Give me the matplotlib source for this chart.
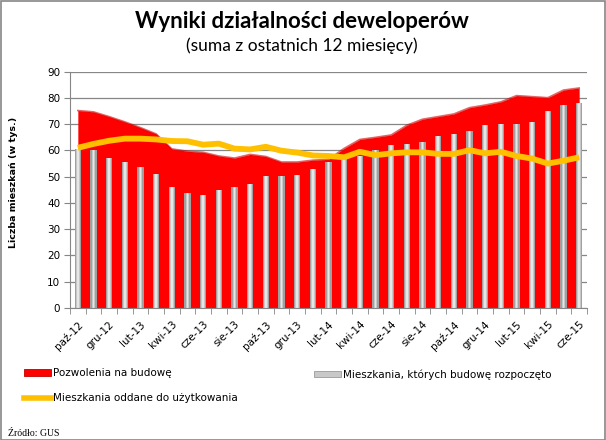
import matplotlib
matplotlib.use("Agg")
import matplotlib.pyplot as plt
import numpy as np
from matplotlib.patches import Rectangle, Patch
from matplotlib.lines import Line2D

months = ["paź-12", "lis-12", "gru-12", "sty-13", "lut-13", "mar-13", "kwi-13", "maj-13",
          "cze-13", "lip-13", "sie-13", "wrz-13", "paź-13", "lis-13", "gru-13", "sty-14",
          "lut-14", "mar-14", "kwi-14", "maj-14", "cze-14", "lip-14", "sie-14", "wrz-14",
          "paź-14", "lis-14", "gru-14", "sty-15", "lut-15", "mar-15", "kwi-15", "maj-15",
          "cze-15"]

pozwolenia = [75.2, 74.7, 72.9, 70.9, 68.7, 66.3, 60.6, 59.7, 59.3, 57.9, 57.1, 58.5,
              57.7, 55.6, 55.6, 56.3, 56.6, 60.8, 64.2, 65.0, 65.9, 69.6, 71.9, 72.9,
              73.9, 76.3, 77.3, 78.5, 80.9, 80.5, 80.1, 83.0, 83.8]

rozpoczete = [60.5, 60.2, 57.0, 55.5, 53.8, 51.2, 46.0, 43.9, 43.2, 44.8, 46.2, 47.4,
              50.4, 50.4, 50.8, 52.9, 55.6, 56.9, 57.9, 60.2, 62.0, 62.5, 63.2, 65.4,
              66.3, 67.4, 69.6, 70.1, 70.1, 70.9, 75.0, 77.5, 78.2]

oddane = [61.0, 62.5, 63.7, 64.5, 64.5, 64.2, 63.6, 63.5, 62.2, 62.6, 60.7, 60.4,
          61.4, 59.9, 59.2, 58.1, 57.9, 57.4, 59.5, 58.2, 58.9, 59.3, 59.3, 58.7,
          58.7, 60.1, 58.9, 59.5, 57.9, 56.9, 55.0, 56.1, 57.4]

yticks = [0, 10, 20, 30, 40, 50, 60, 70, 80, 90]

title = "Wyniki działalności deweloperów"
subtitle = "(suma z ostatnich 12 miesięcy)"
ylabel = "Liczba mieszkań (w tys.)"
source = "Źródło: GUS"
lab_poz = "Pozwolenia na budowę"
lab_roz = "Mieszkania, których budowę rozpoczęto"
lab_odd = "Mieszkania oddane do użytkowania"

W, H = 606, 440
fig = plt.figure(figsize=(W / 100, H / 100), dpi=100)
fig.patch.set_facecolor("white")

ax = fig.add_axes([70 / W, 1 - 308 / H, (587 - 70) / W, (308 - 71.7) / H])
x = np.arange(len(months))

grid_c = "#868686"
ax.set_ylim(0, 90)
ax.set_xlim(-0.5, len(months) - 0.5)
ax.set_yticks(yticks)
ax.yaxis.grid(True, color=grid_c, lw=0.9, zorder=0)
ax.set_axisbelow(True)

# red area
ax.fill_between(x, 0, pozwolenia, color="#FF0000", lw=0, zorder=2)
ax.plot(x, pozwolenia, color="#D00000", lw=1.2, alpha=0.6, zorder=2.1)

# grey bars (cylinder-like shading)
bw = 0.40
ax.bar(x, rozpoczete, width=bw, color="#A0A0A0", lw=0, zorder=3)
ax.bar(x, rozpoczete, width=bw * 0.55, color="#C8C8C8", lw=0, zorder=3.1)
ax.bar(x, rozpoczete, width=bw * 0.22, color="#E6E6E6", lw=0, zorder=3.2)

# orange line
ax.plot(x, oddane, color="#FFC000", lw=4.2, solid_capstyle="butt", zorder=4)

for s in ["top", "right"]:
    ax.spines[s].set_visible(False)
ax.spines["left"].set_color(grid_c)
ax.spines["bottom"].set_color(grid_c)
ax.spines["left"].set_zorder(5)
ax.spines["bottom"].set_zorder(5)

ax.tick_params(axis="y", length=4, color=grid_c, labelsize=7.5, pad=3, labelcolor="black")
ax.set_xticks(x[::2])
ax.set_xticklabels(months[::2], rotation=45, ha="right", rotation_mode="anchor",
                   fontsize=7.5)
ax.tick_params(axis="x", which="major", length=0, pad=8)
ax.set_xticks(np.arange(-0.5, len(months)), minor=True)
ax.tick_params(axis="x", which="minor", length=4, color=grid_c)

fig.text(13.5 / W, 1 - 182 / H, ylabel, rotation=90, ha="center", va="center",
         fontsize=6.8, fontweight="bold")

fig.text(302 / W, 1 - 22 / H, title, ha="center", va="center", fontsize=16,
         fontweight="bold", family="Lato")
fig.text(302 / W, 1 - 46 / H, subtitle, ha="center", va="center", fontsize=12.5,
         family="Lato")

h_poz = Patch(facecolor="#FF0000", edgecolor="#C00000", lw=0.6)
h_odd = Line2D([0], [0], color="#FFC000", lw=4)
h_roz = Patch(facecolor="#C8C8C8", edgecolor="#9A9A9A", lw=0.6)

leg1 = fig.legend([h_poz, h_odd], [lab_poz, lab_odd], loc="upper left",
                  bbox_to_anchor=(24 / W, 1 - 368 / H), frameon=False, fontsize=7.5,
                  handlelength=2.6, handleheight=0.6, handletextpad=0.15,
                  labelspacing=1.45, borderpad=0, borderaxespad=0)
leg2 = fig.legend([h_roz], [lab_roz], loc="upper left",
                  bbox_to_anchor=(314 / W, 1 - 369 / H), frameon=False, fontsize=7.5,
                  handlelength=2.6, handleheight=0.6, handletextpad=0.15,
                  borderpad=0, borderaxespad=0)

fig.text(8 / W, 1 - 433 / H, source, ha="left", va="center", fontsize=7,
         family="Liberation Serif")

fig.add_artist(Rectangle((0.5 / W, 0.5 / H), (W - 1.5) / W, (H - 1.5) / H,
                         transform=fig.transFigure, fill=False, ec=grid_c, lw=1.2))

fig.savefig("out.png", dpi=100)
